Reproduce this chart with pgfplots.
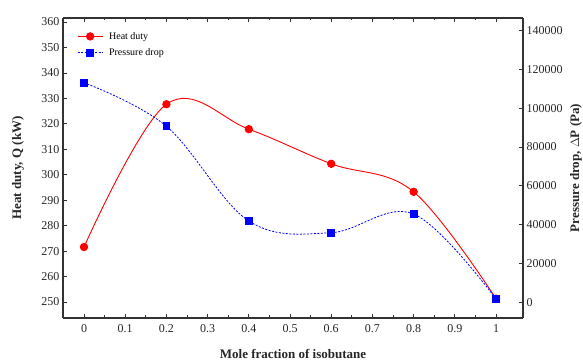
\documentclass[border=0pt]{standalone}
\usepackage{pgfplots}
\pgfplotsset{compat=1.18}
\usepackage{fontspec}
\setmainfont{Liberation Serif}
\begin{document}
\begin{tikzpicture}
\pgfplotsset{
  every axis/.append style={
    scale only axis, width=460pt, height=300pt,
    at={(0pt,0pt)}, anchor=south west,
    /pgf/number format/assume math mode=true,
    tick label style={font=\fontsize{12}{14}\selectfont, black!85},
    label style={font=\fontsize{13}{15}\selectfont\bfseries, black!85},
    axis line style={black!80, line width=1.3pt},
    tick style={black!80, line width=0.8pt},
    major tick length=4pt, minor tick length=2.5pt,
    tick align=inside,
    xmin=-0.051, xmax=1.0655,
  }
}
\begin{axis}[
  ymin=243.7, ymax=361.6,
  xtick={0,0.1,...,1.01},
  xticklabels={0,0.1,0.2,0.3,0.4,0.5,0.6,0.7,0.8,0.9,1},
  xticklabel style={yshift=-3pt},
  minor x tick num=1,
  ytick={250,260,...,360},
  axis y line*=left,
  xlabel={Mole fraction of isobutane},
  ylabel={Heat duty, Q (kW)},
  xlabel style={at={(axis description cs:0.5,-0.12)}, anchor=center},
  ylabel style={at={(axis description cs:-0.0978,0.5)}, anchor=center, rotate=0},
  legend style={at={(12pt,290pt)}, anchor=north west, draw=none, fill=none,
    font=\fontsize{10}{12}\selectfont, row sep=4pt, inner sep=2pt},
  legend cell align=left,
  legend image code/.code={\draw[mark repeat=2,mark phase=2,#1] plot coordinates {(0pt,0pt) (12.5pt,0pt) (25pt,0pt)};},
]
\addplot[red, line width=0.9pt, smooth, tension=0.6, mark=*, mark size=3.7pt, mark options={solid, fill=red}]
  coordinates {(0,271.6) (0.2,327.7) (0.4,317.9) (0.6,304.3) (0.8,293.3) (1,251.3)};
\addlegendentry{\hspace{4pt}Heat duty}
\addlegendimage{blue, line width=0.8pt, dash pattern=on 2pt off 1.5pt, mark=square*, mark size=3.4pt, mark options={solid, fill=blue}}
\addlegendentry{\hspace{4pt}Pressure drop}
\end{axis}
\begin{axis}[
  ymin=-8090, ymax=146430,
  axis y line*=right, axis x line=none,
  ytick={0,20000,...,140000},
  scaled y ticks=false,
  yticklabel style={/pgf/number format/1000 sep={}, /pgf/number format/fixed},
  ylabel={Pressure drop, $\Delta$P (Pa)},
  ylabel style={at={(axis description cs:1.115,0.5)}, anchor=center},
]
\addplot[blue, line width=0.8pt, dash pattern=on 2pt off 1.5pt, smooth, tension=0.6, mark=square*, mark size=3.4pt, mark options={solid, fill=blue}]
  coordinates {(0,113100) (0.2,90650) (0.4,41870) (0.6,35850) (0.8,45480) (1,1700)};
\end{axis}
\pgfresetboundingbox
\path[use as bounding box] (-63pt,-45pt) rectangle (520pt,318pt);
\end{tikzpicture}
\end{document}
